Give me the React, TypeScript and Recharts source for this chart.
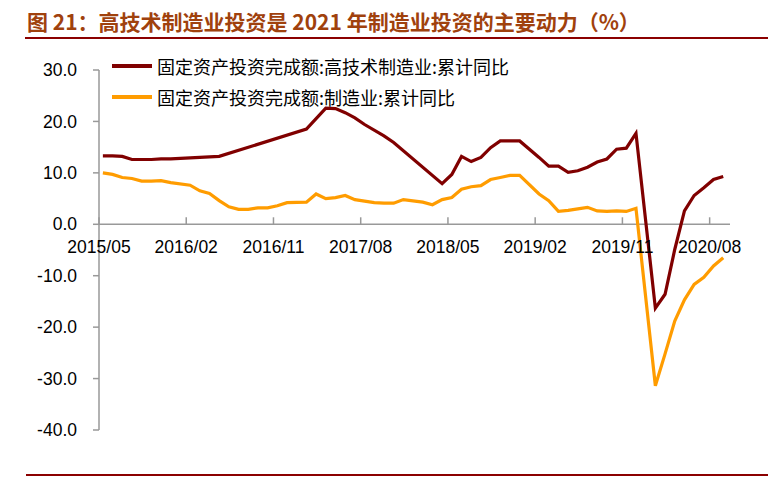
import React from "react";
import { LineChart, Line, XAxis, YAxis, ReferenceLine, Legend } from "recharts";

// monthly categories, 2015/05 .. 2020/09
const START_YEAR = 2015;
const START_MONTH = 5;
const MONTH_COUNT = 65;
const MONTHS: string[] = [];
for (let i = 0; i < MONTH_COUNT; i++) {
  const m = START_MONTH - 1 + i;
  const y = START_YEAR + Math.floor(m / 12);
  MONTHS.push(`${y}/${String((m % 12) + 1).padStart(2, "0")}`);
}

const TICK_LABELS = ["2015/05", "2016/02", "2016/11", "2017/08", "2018/05", "2019/02", "2019/11", "2020/08"];
const Y_TICKS = [30, 20, 10, 0, -10, -20, -30, -40];

// 固定资产投资完成额:高技术制造业:累计同比 (null = not shown / January)
const HITECH = [
  13.3, 13.3, 13.2, 12.6, 12.6, 12.6, 12.7, 12.7, null, 12.9, 13.0, 13.1,
  13.2, null, null, null, null, null, null, null, null, 18.5, null, 22.6,
  22.5, 21.7, 20.7, 19.4, null, 17.2, 15.9, null, null, null, null, 7.9,
  9.7, 13.2, 12.2, 13.0, 14.9, 16.2, 16.2, 16.2, null, 13.0, 11.3, 11.3,
  10.1, 10.4, 11.1, 12.1, 12.7, 14.6, 14.8, 17.7, null, -16.3, -13.6, -4.9,
  2.6, 5.6, 7.1, 8.7, 9.3,
];

// 固定资产投资完成额:制造业:累计同比
const MFG = [
  10.0, 9.7, 9.1, 8.9, 8.4, 8.4, 8.5, 8.1, null, 7.6, 6.5, 6.0,
  4.6, 3.4, 2.9, 2.9, 3.2, 3.2, 3.6, 4.2, null, 4.3, 5.9, 5.0,
  5.2, 5.6, 4.8, 4.5, 4.2, 4.1, 4.1, 4.8, null, 4.3, 3.8, 4.8,
  5.2, 6.8, 7.3, 7.5, 8.7, 9.1, 9.5, 9.5, null, 5.9, 4.6, 2.5,
  2.7, 3.0, 3.3, 2.6, 2.5, 2.6, 2.5, 3.1, null, -31.4, -25.2, -18.8,
  -14.7, -11.7, -10.3, -8.1, -6.5,
];

const SERIES = [
  { key: "hitech", name: "固定资产投资完成额:高技术制造业:累计同比", color: "#800000" },
  { key: "mfg", name: "固定资产投资完成额:制造业:累计同比", color: "#FF9C00" },
];

const rows = MONTHS.map((month, i) => ({ t: i, month, hitech: HITECH[i], mfg: MFG[i] }));

// points sit a little after the month tick, as in the source chart
const TICK_SHIFT = 0.4;
const tickPos = TICK_LABELS.map((l) => MONTHS.indexOf(l) - TICK_SHIFT);

const W = 773;
const H = 477;
const M = { top: 70, right: 43, bottom: 46, left: 0 };
const PLOT_H = H - M.top - M.bottom - 1;
const Y_MIN = -40;
const Y_MAX = 30;
const ZERO_SHIFT = (PLOT_H * (0 - Y_MIN)) / (Y_MAX - Y_MIN);

const FONT = "'Liberation Sans', Arial, sans-serif";
const CJK = "'Noto Sans CJK SC', 'Liberation Sans', sans-serif";

const XTick = (props: any) => {
  const { x, y, payload } = props;
  const y0 = y - ZERO_SHIFT;
  const label = MONTHS[Math.round(payload.value + TICK_SHIFT)];
  return (
    <g>
      <line x1={x} x2={x} y1={y0 - 7} y2={y0} stroke="#999" strokeWidth={1.5} />
      <text x={x} y={y0 + 29} textAnchor="middle" fill="#000" fontSize={17.5} fontFamily={FONT}>
        {label}
      </text>
    </g>
  );
};

const renderLegend = () => (
  <div style={{ fontFamily: CJK, fontSize: 18, color: "#000" }}>
    {SERIES.map((s) => (
      <div key={s.key} style={{ display: "flex", alignItems: "center", height: 30.5, whiteSpace: "nowrap" }}>
        <span style={{ display: "inline-block", width: 40, height: 4, background: s.color, marginRight: 5 }} />
        <span>{s.name}</span>
      </div>
    ))}
  </div>
);

export default function App() {
  return (
    <div style={{ position: "absolute", left: 0, top: 0, width: W, height: H, background: "#fff", overflow: "hidden" }}>
      <div
        style={{
          position: "absolute",
          left: 27,
          top: 10,
          fontFamily: CJK,
          fontWeight: 700,
          fontSize: 21,
          lineHeight: "23px",
          color: "#A0410D",
          whiteSpace: "nowrap",
        }}
      >
        图 21：高技术制造业投资是 2021 年制造业投资的主要动力（%）
      </div>
      <div style={{ position: "absolute", left: 25, top: 37, width: 743, height: 2, background: "#8B0000" }} />
      <div style={{ position: "absolute", left: 26, top: 474, width: 742, height: 2, background: "#8B0000" }} />
      <LineChart width={W} height={H} data={rows} margin={M}>
        <XAxis
          type="number"
          dataKey="t"
          domain={[-TICK_SHIFT, 64.7]}
          ticks={tickPos}
          interval={0}
          allowDataOverflow
          axisLine={false}
          tickLine={false}
          tickSize={0}
          tickMargin={0}
          height={1}
          tick={<XTick />}
        />
        <YAxis
          type="number"
          domain={[Y_MIN, Y_MAX]}
          ticks={Y_TICKS}
          interval={0}
          width={99}
          axisLine={{ stroke: "#999", strokeWidth: 1.5 }}
          tickLine={{ stroke: "#999", strokeWidth: 1.5 }}
          tickSize={6}
          tickMargin={16}
          tick={{ fill: "#000", fontSize: 17.5, fontFamily: FONT }}
          tickFormatter={(v: number) => v.toFixed(1)}
        />
        <ReferenceLine y={0} stroke="#999" strokeWidth={1.5} />
        <Legend
          layout="horizontal"
          verticalAlign="middle"
          align="center"
          content={renderLegend}
          wrapperStyle={{ left: 112, top: 51, width: "auto", height: "auto" }}
        />
        {SERIES.map((s) => (
          <Line
            key={s.key}
            type="linear"
            dataKey={s.key}
            name={s.name}
            stroke={s.color}
            strokeWidth={3.2}
            dot={false}
            connectNulls
            isAnimationActive={false}
          />
        ))}
      </LineChart>
    </div>
  );
}
